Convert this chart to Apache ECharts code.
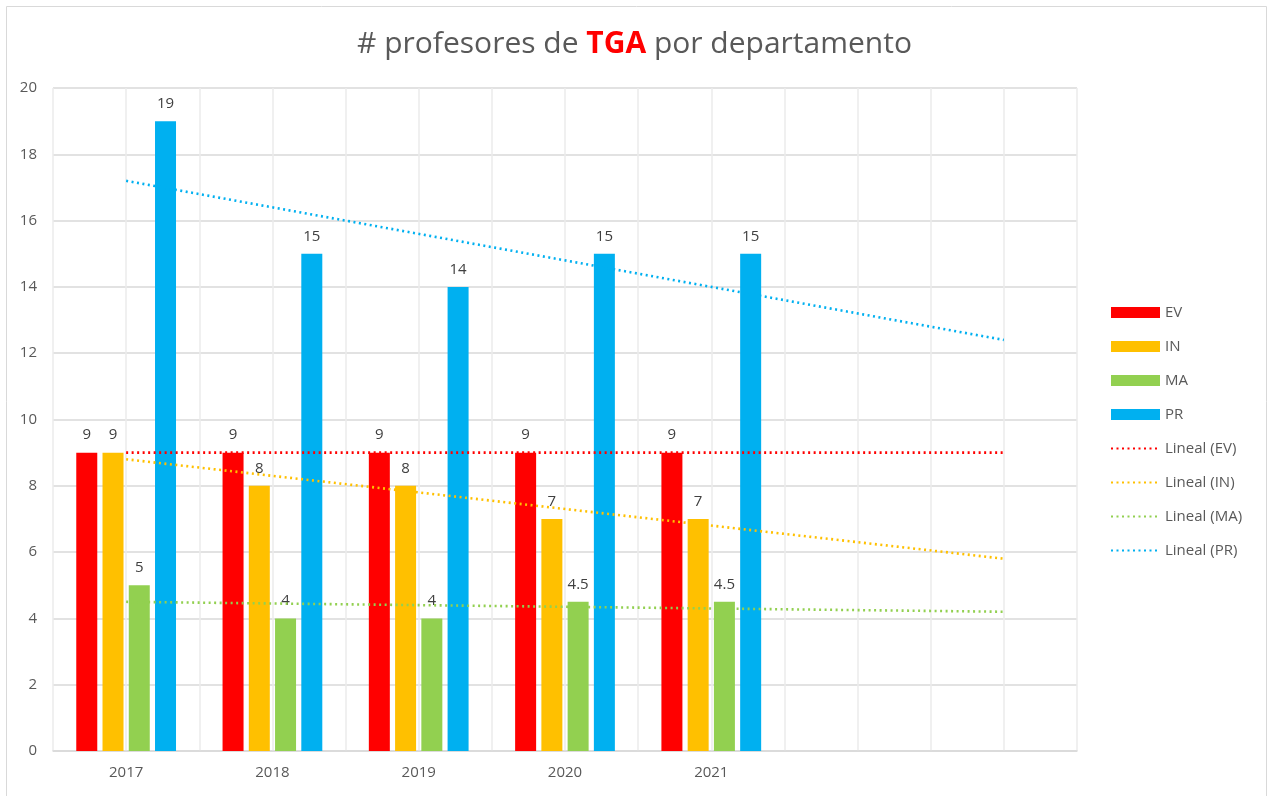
<!DOCTYPE html>
<html>
<head>
<meta charset="utf-8">
<script src="https://cdn.jsdelivr.net/npm/echarts@6/dist/echarts.min.js"></script>
<style>
  html, body { margin: 0; padding: 0; background: #fff; }
  #chart { width: 1269px; height: 796px; }
</style>
</head>
<body>
<div id="chart"></div>
<script>
  // datos
  var years = ['2017', '2018', '2019', '2020', '2021', '', ''];
  var evData = [9, 9, 9, 9, 9];
  var inData = [9, 8, 8, 7, 7];
  var maData = [5, 4, 4, 4.5, 4.5];
  var prData = [19, 15, 14, 15, 15];
  // tendencias lineales: valor en 2017 y al final del pronostico (2 periodos)
  var trendEV = [9, 9];
  var trendIN = [8.8, 5.8];
  var trendMA = [4.5, 4.2];
  var trendPR = [17.2, 12.4];
  var yTicks = { min: 0, max: 20, interval: 2 };

  var chart = echarts.init(document.getElementById('chart'));
  var FONT = '"Open Sans", "Noto Sans", sans-serif';

  function trendLine(pair) {
    var arr = [];
    for (var i = 0; i < years.length; i++) arr.push(null);
    arr[0] = pair[0];
    arr[years.length - 1] = pair[1];
    return arr;
  }

  function barSeries(name, data, color) {
    return {
      name: name,
      type: 'bar',
      data: data,
      barWidth: 21,
      barGap: '25%',
      itemStyle: { color: color },
      label: {
        show: true,
        position: 'top',
        distance: 10,
        color: '#404040',
        fontSize: 15,
        fontFamily: FONT
      },
      z: 2
    };
  }

  function lineSeries(name, pair, color) {
    return {
      name: name,
      type: 'line',
      data: trendLine(pair),
      connectNulls: true,
      symbol: 'none',
      silent: true,
      lineStyle: { color: color, width: 2.6, type: [2, 3.5] },
      itemStyle: { color: color },
      z: 3
    };
  }

  var option = {
    animation: false,
    title: {
      text: '{a|# profesores de }{b|TGA}{a| por departamento}',
      left: 'center',
      top: 24,
      textStyle: {
        rich: {
          a: { fontSize: 30, color: '#595959', fontWeight: 'normal', fontFamily: FONT },
          b: { fontSize: 30, color: '#ff0000', fontWeight: 'bold', fontFamily: FONT }
        }
      }
    },
    graphic: [{
      type: 'rect',
      shape: { x: 6.5, y: 6.5, width: 1260, height: 830 },
      style: { fill: 'none', stroke: '#d9d9d9', lineWidth: 1 },
      silent: true
    }],
    legend: {
      orient: 'vertical',
      left: 1105,
      top: 300,
      itemWidth: 49,
      itemHeight: 11,
      itemGap: 19,
      textStyle: { color: '#595959', fontSize: 15, fontFamily: FONT },
      data: [
        { name: 'EV', icon: 'rect' },
        { name: 'IN', icon: 'rect' },
        { name: 'MA', icon: 'rect' },
        { name: 'PR', icon: 'rect' },
        { name: 'Lineal (EV)', itemStyle: { opacity: 0 } },
        { name: 'Lineal (IN)', itemStyle: { opacity: 0 } },
        { name: 'Lineal (MA)', itemStyle: { opacity: 0 } },
        { name: 'Lineal (PR)', itemStyle: { opacity: 0 } }
      ]
    },
    grid: { left: 53, right: 192, top: 88, bottom: 45 },
    xAxis: [
      {
        type: 'category',
        data: years,
        axisLine: { show: true, lineStyle: { color: '#d9d9d9', width: 1.5 } },
        axisTick: { show: false },
        splitLine: { show: false },
        axisLabel: { color: '#595959', fontSize: 15, margin: 14, fontFamily: FONT }
      },
      {
        // lineas verticales cada media categoria
        type: 'value',
        min: 0,
        max: years.length * 2,
        interval: 1,
        position: 'bottom',
        axisLine: { show: false },
        axisTick: { show: false },
        axisLabel: { show: false },
        splitLine: { show: true, lineStyle: { color: '#ebebeb', width: 1.5 } }
      }
    ],
    yAxis: {
      type: 'value',
      min: yTicks.min,
      max: yTicks.max,
      interval: yTicks.interval,
      axisLine: { show: false },
      axisTick: { show: false },
      axisLabel: { color: '#595959', fontSize: 15, margin: 16, fontFamily: FONT },
      splitLine: { lineStyle: { color: '#d9d9d9', width: 1.5 } }
    },
    series: [
      barSeries('EV', evData, '#ff0000'),
      barSeries('IN', inData, '#ffc000'),
      barSeries('MA', maData, '#92d050'),
      barSeries('PR', prData, '#00b0f0'),
      lineSeries('Lineal (EV)', trendEV, '#ff0000'),
      lineSeries('Lineal (IN)', trendIN, '#ffc000'),
      lineSeries('Lineal (MA)', trendMA, '#92d050'),
      lineSeries('Lineal (PR)', trendPR, '#00b0f0')
    ]
  };
  chart.setOption(option);
</script>
</body>
</html>
